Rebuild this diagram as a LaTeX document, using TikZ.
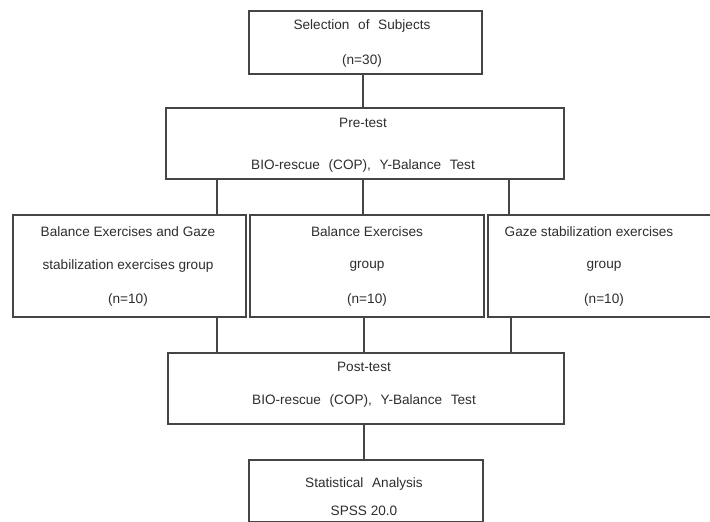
\documentclass[tikz,border=0pt]{standalone}
\usepackage{fontspec}
\setmainfont{Liberation Sans}
\newfontfamily\widefont[WordSpace=2.3]{Liberation Sans}
\definecolor{linegray}{HTML}{454545}
\definecolor{textgray}{HTML}{2E2E2E}
\begin{document}
\begin{tikzpicture}[x=1pt,y=-1pt,
  box/.style={draw=linegray,line width=1.6pt,rectangle,inner sep=0pt,anchor=north west},
  lbl/.style={text=textgray,font=\fontsize{13.6}{16}\selectfont,inner sep=0pt,anchor=center},
  wlbl/.style={text=textgray,font=\widefont\fontsize{13.6}{16}\selectfont,inner sep=0pt,anchor=center},
  link/.style={draw=linegray,line width=1.2pt}]
\useasboundingbox[fill=white] (0,0) rectangle (710,522);
% boxes
\node[box,minimum width=233pt,minimum height=63pt] (sel) at (248,10) {};
\node[box,minimum width=398pt,minimum height=71pt] (pre) at (165,107) {};
\node[box,minimum width=233pt,minimum height=102pt] (g1) at (12,214) {};
\node[box,minimum width=234pt,minimum height=102pt] (g2) at (249,214) {};
\node[box,minimum width=234pt,minimum height=102pt] (g3) at (487,214) {};
\node[box,minimum width=396pt,minimum height=71pt] (post) at (167,352) {};
\node[box,minimum width=234pt,minimum height=62pt] (stat) at (248,459) {};
% texts
\node[wlbl] (t1a) at (362,26) {Selection of Subjects};
\node[lbl] (t1b) at (362,61) {(n=30)};
\node[wlbl] (t2a) at (363,123) {Pre-test};
\node[wlbl] (t2b) at (363,166) {BIO-rescue (COP), Y-Balance Test};
\node[lbl] (t3a) at (128,232) {Balance Exercises and Gaze};
\node[lbl] (t3b) at (128,266) {stabilization exercises group};
\node[lbl] (t3c) at (128,300) {(n=10)};
\node[lbl] (t4a) at (367,232) {Balance Exercises};
\node[lbl] (t4b) at (367,266) {group};
\node[lbl] (t4c) at (367,300) {(n=10)};
\node[lbl] (t5a) at (589,232) {Gaze stabilization exercises};
\node[lbl] (t5b) at (604,266) {group};
\node[lbl] (t5c) at (604,300) {(n=10)};
\node[wlbl] (t6a) at (364,367) {Post-test};
\node[wlbl] (t6b) at (364,401) {BIO-rescue (COP), Y-Balance Test};
\node[wlbl] (t7a) at (364,484) {Statistical Analysis};
\node[lbl] (t7b) at (364,511) {SPSS 20.0};
% connector columns
\coordinate (cA) at (217,0);
\coordinate (cB) at (363,0);
\coordinate (cC) at (509,0);
\coordinate (dA) at (217,0);
\coordinate (dB) at (364,0);
\coordinate (dC) at (511,0);
% connectors
\draw[link] (sel.south -| cB) -- (pre.north -| cB);
\draw[link] (pre.south -| cA) -- (g1.north -| cA);
\draw[link] (pre.south -| cB) -- (g2.north -| cB);
\draw[link] (pre.south -| cC) -- (g3.north -| cC);
\draw[link] (g1.south -| dA) -- (post.north -| dA);
\draw[link] (g2.south -| dB) -- (post.north -| dB);
\draw[link] (g3.south -| dC) -- (post.north -| dC);
\draw[link] (post.south -| dB) -- (stat.north -| dB);
\end{tikzpicture}
\end{document}
